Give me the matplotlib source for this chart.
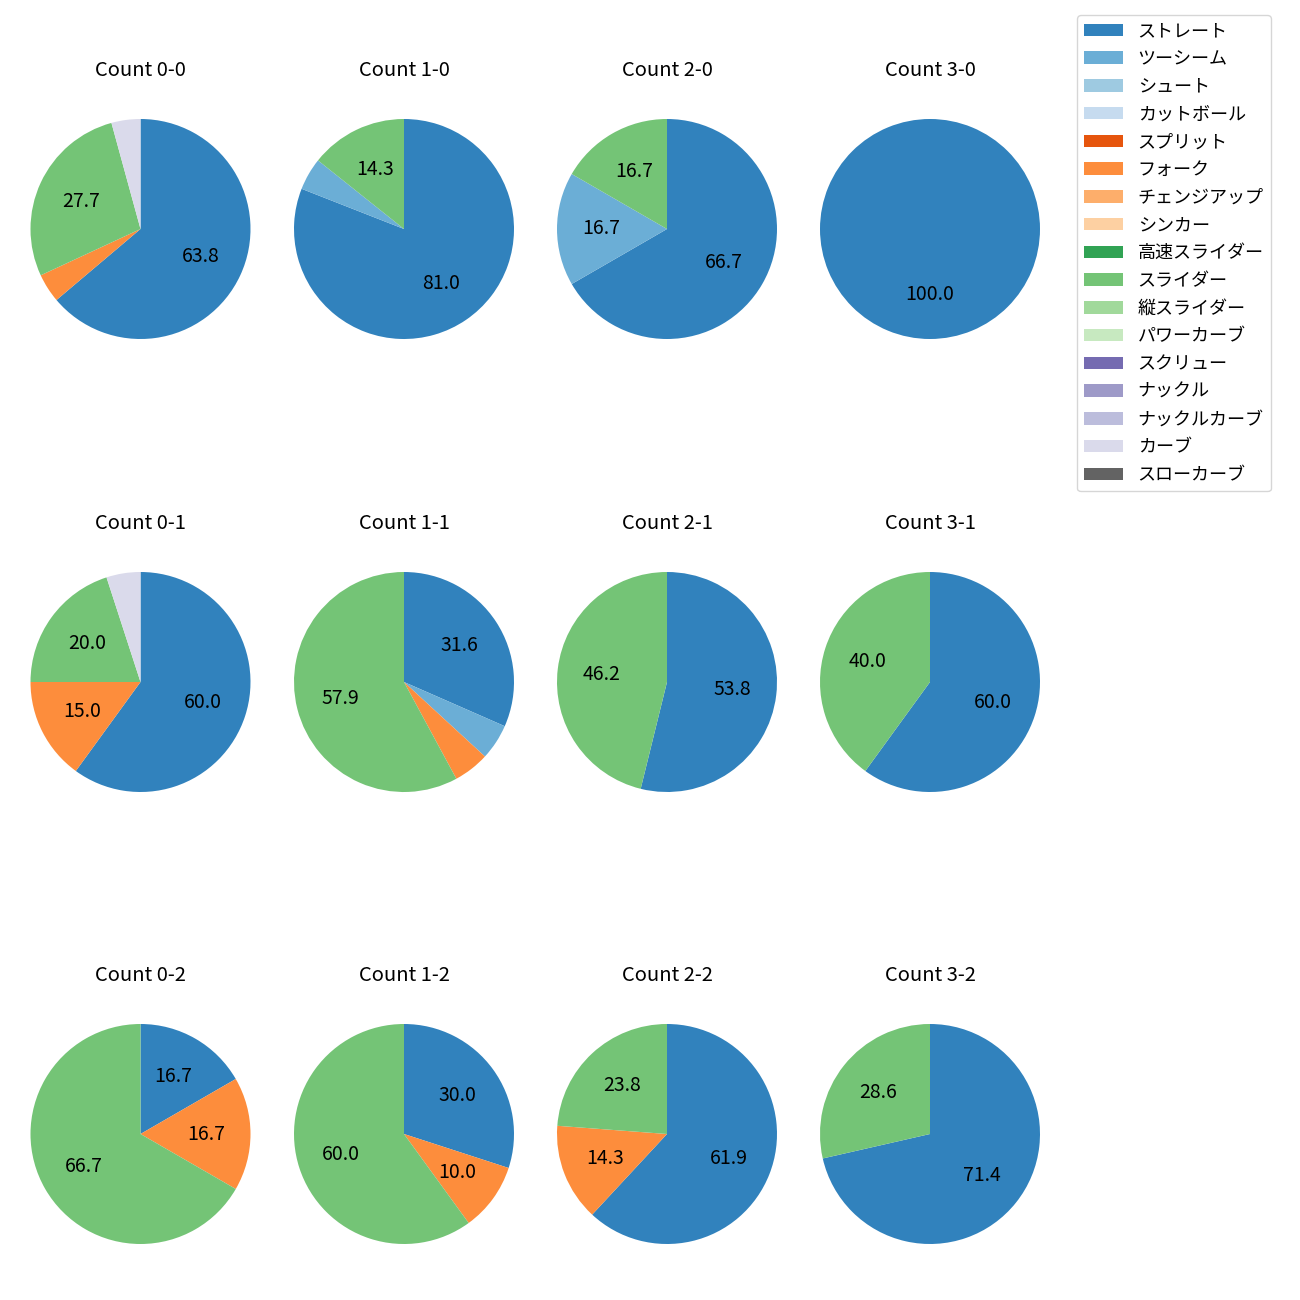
import numpy as np
import matplotlib
matplotlib.use("Agg")
import matplotlib.pyplot as plt
from matplotlib.patches import Patch

plt.rcParams['font.family'] = ['Noto Sans CJK JP', 'DejaVu Sans']

# ── data ──────────────────────────────────────────────────────────────────
pitch_types = ["ストレート", "ツーシーム", "シュート", "カットボール", "スプリット",
               "フォーク", "チェンジアップ", "シンカー", "高速スライダー", "スライダー",
               "縦スライダー", "パワーカーブ", "スクリュー", "ナックル", "ナックルカーブ",
               "カーブ", "スローカーブ"]

counts = ["0-0", "1-0", "2-0", "3-0",
          "0-1", "1-1", "2-1", "3-1",
          "0-2", "1-2", "2-2", "3-2"]

# pitches thrown per count, keyed by pitch type (others zero)
count_0_0 = {"ストレート": 30, "フォーク": 2, "スライダー": 13, "カーブ": 2}
count_1_0 = {"ストレート": 17, "ツーシーム": 1, "スライダー": 3}
count_2_0 = {"ストレート": 4, "ツーシーム": 1, "スライダー": 1}
count_3_0 = {"ストレート": 3}
count_0_1 = {"ストレート": 12, "フォーク": 3, "スライダー": 4, "カーブ": 1}
count_1_1 = {"ストレート": 6, "ツーシーム": 1, "フォーク": 1, "スライダー": 11}
count_2_1 = {"ストレート": 7, "スライダー": 6}
count_3_1 = {"ストレート": 3, "スライダー": 2}
count_0_2 = {"ストレート": 1, "フォーク": 1, "スライダー": 4}
count_1_2 = {"ストレート": 3, "フォーク": 1, "スライダー": 6}
count_2_2 = {"ストレート": 13, "フォーク": 3, "スライダー": 5}
count_3_2 = {"ストレート": 5, "スライダー": 2}

count_data = [count_0_0, count_1_0, count_2_0, count_3_0,
              count_0_1, count_1_1, count_2_1, count_3_1,
              count_0_2, count_1_2, count_2_2, count_3_2]

colors = plt.get_cmap("tab20c").colors[:len(pitch_types)]
color_map = dict(zip(pitch_types, colors))

# ── layout (pixels) ───────────────────────────────────────────────────────
W = H = 1300
centers_x = [140.5, 404, 667, 930]
centers_y = [229, 682, 1134]
half = 137.5   # axes half-size (pie radius 110 * 1.25)

fig = plt.figure(figsize=(13, 13), dpi=100)

for idx, (cnt, data) in enumerate(zip(counts, count_data)):
    r, c = divmod(idx, 4)
    cx, cy = centers_x[c], centers_y[r]
    ax = fig.add_axes([(cx - half) / W, 1 - (cy + half) / H, 2 * half / W, 2 * half / H])
    labels = [p for p in pitch_types if data.get(p, 0) > 0]
    vals = [data[p] for p in labels]
    ax.pie(vals, colors=[color_map[p] for p in labels], startangle=90,
           counterclock=False,
           autopct=lambda p: f"{p:.1f}" if p >= 10 else "",
           textprops={"fontsize": 14})
    ax.set_title(f"Count {cnt}", fontsize=14.5, pad=11.5)

handles = [Patch(facecolor=color_map[p], label=p) for p in pitch_types]
fig.legend(handles=handles, loc="upper left", bbox_to_anchor=(1077 / W, 1 - 15 / H),
           borderaxespad=0, fontsize=13, handlelength=2.16, labelspacing=0.54)

fig.savefig("out.png", dpi=100)
